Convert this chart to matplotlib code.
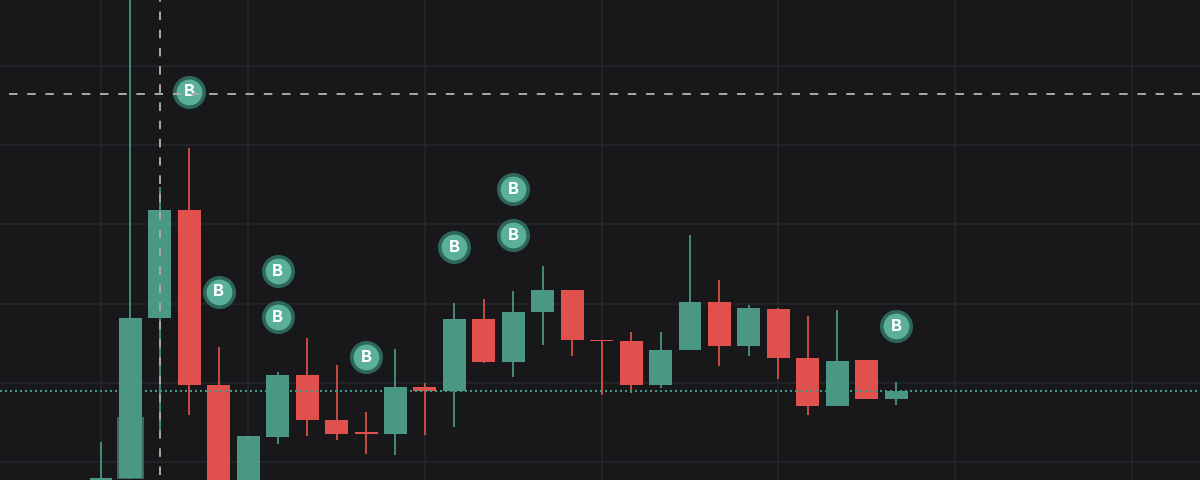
import matplotlib
matplotlib.use('Agg')
import matplotlib.pyplot as plt
import numpy as np

plt.rcParams['font.family'] = ['Inter', 'DejaVu Sans']
plt.rcParams['lines.scale_dashes'] = False

# values (price scale has no labels, so arbitrary units)
opens = np.array([-10, 2, 162, 270, 95, -20, 43, 105, 60.5, 48, 46.5, 93, 89, 161, 118, 168, 190, 140.5, 139, 95, 130, 178, 134, 171, 122, 74, 120, 81])
closes = np.array([2.5, 162, 270, 95, -20, 44, 105, 60.5, 46.5, 46.5, 93, 89, 161, 118, 168, 190, 140, 139, 95, 130, 178, 134, 172, 122, 74, 119, 81, 89])
highs = np.array([38, 520, 293, 332, 133, 44, 108, 142, 115, 68, 131, 97, 177, 181, 189, 214, 190, 140.5, 148, 148, 245, 200, 175, 172, 164, 170, 120, 98])
lows = np.array([-10, 1, 50, 65, -20, -20, 36, 44, 40, 26, 25, 45, 53, 117, 103, 135, 124, 85, 87, 92, 130, 114, 124, 101, 65, 74, 81, 75])

volume_idx = [1]
volume_val = [62]

buy_idx = [3, 4, 6, 6, 9, 12, 14, 14, 27]
buy_price = [388.5, 188.5, 209, 163, 123, 233, 291, 245, 154]

grid_x = [0, 5, 11, 17, 23, 29, 35]
grid_y = [18, 97, 176, 256, 335, 414]

cross_idx = 2
cross_price = 386
last_price = 89

bg = '#18181b'
green = '#4a9883'
red = '#e0504c'

fig = plt.figure(figsize=(12, 4.8), dpi=100, facecolor=bg)
ax = fig.add_axes([0, 0, 1, 1], facecolor=bg)

step = 29.45
ax.set_xlim(-101.0 / step, (1200 - 101.0) / step)
ax.set_ylim(0, 480)

ax.set_xticks(grid_x)
ax.set_yticks(grid_y)
ax.grid(True, color='#26272a', lw=1.1)
ax.set_axisbelow(True)
ax.tick_params(length=0, labelbottom=False, labelleft=False)
for s in ax.spines.values():
    s.set_visible(False)

x = np.arange(len(opens))
colors = [green if c >= o else red for o, c in zip(opens, closes)]

ax.bar(volume_idx, volume_val, bottom=1, width=0.92, color='#3a665b', zorder=2)
ax.vlines(x, lows, highs, colors=colors, lw=1.25, zorder=3)
bottoms = np.minimum(opens, closes)
heights = np.maximum(np.abs(closes - opens), 1.5)
ax.bar(x, heights, bottom=bottoms, width=0.78, color=colors, zorder=4)

ax.scatter(buy_idx, buy_price, s=21.2 ** 2, c='#5ab09a', edgecolors='#2e6659', linewidths=2.6, zorder=5)
for i, p in zip(buy_idx, buy_price):
    ax.text(i, p - 0.5, 'B', color='white', fontsize=12, fontweight='bold',
            ha='center', va='center', zorder=6)

# crosshair and last price line
px = 0.72
ax.axhline(last_price, color='#3f9a83', lw=1.5, ls=(0, (2 * px, 3 * px)), zorder=4.5)
ax.axhline(cross_price, color='#a9a9a9', lw=1.4, ls=(9.2 * px, (8.5 * px, 9.7 * px)), zorder=7)
ax.axvline(cross_idx, color='#a9a9a9', lw=1.4, ls=(13.2 * px, (8.5 * px, 9.7 * px)), zorder=7)

plt.savefig('out.png', dpi=100, facecolor=bg)
